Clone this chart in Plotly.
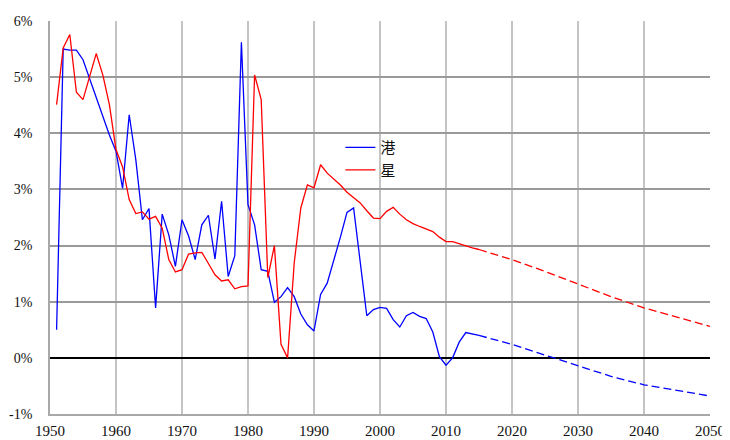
import plotly.graph_objects as go

years_hist = list(range(1951, 2016))
hk_hist = [0.50, 5.50, 5.48, 5.48, 5.31, 4.98, 4.65, 4.32, 3.97, 3.68,
           3.02, 4.33, 3.53, 2.46, 2.66, 0.89, 2.56, 2.19, 1.63, 2.46,
           2.17, 1.75, 2.37, 2.54, 1.76, 2.79, 1.45, 1.82, 5.62, 2.73,
           2.37, 1.57, 1.54, 0.99, 1.09, 1.25, 1.09, 0.78, 0.59, 0.48,
           1.13, 1.33, 1.72, 2.15, 2.59, 2.67, 1.71, 0.75, 0.86, 0.90,
           0.88, 0.68, 0.55, 0.75, 0.81, 0.74, 0.70, 0.46, 0.02, -0.13,
           0.00, 0.28, 0.45, 0.42, 0.40]
sg_hist = [4.51, 5.52, 5.76, 4.73, 4.60, 5.01, 5.42, 5.04, 4.51, 3.71,
           3.40, 2.82, 2.57, 2.60, 2.47, 2.52, 2.31, 1.75, 1.53, 1.57,
           1.85, 1.87, 1.88, 1.68, 1.48, 1.37, 1.39, 1.23, 1.27, 1.28,
           5.04, 4.60, 1.43, 2.00, 0.24, 0.00, 1.69, 2.67, 3.08, 3.03,
           3.44, 3.29, 3.18, 3.08, 2.95, 2.85, 2.76, 2.62, 2.49, 2.48,
           2.61, 2.68, 2.56, 2.46, 2.39, 2.34, 2.30, 2.25, 2.15, 2.07,
           2.07, 2.03, 1.99, 1.96, 1.93]

years_proj = [2015, 2020, 2025, 2030, 2035, 2040, 2045, 2050]
hk_proj = [0.40, 0.24, 0.05, -0.14, -0.33, -0.48, -0.58, -0.68]
sg_proj = [1.93, 1.75, 1.54, 1.31, 1.09, 0.89, 0.73, 0.56]

x_ticks = list(range(1950, 2051, 10))
y_ticks = [-1, 0, 1, 2, 3, 4, 5, 6]
y_labels = ["-1%", "0%", "1%", "2%", "3%", "4%", "5%", "6%"]

BLUE = "#0000ff"
RED = "#ff0000"
SERIF = "'Times New Roman', 'Liberation Serif', serif"

fig = go.Figure()
fig.add_trace(go.Scatter(x=years_hist, y=hk_hist, mode="lines", name="港",
                         line=dict(color=BLUE, width=1.3)))
fig.add_trace(go.Scatter(x=years_hist, y=sg_hist, mode="lines", name="星",
                         line=dict(color=RED, width=1.3)))
fig.add_trace(go.Scatter(x=years_proj, y=hk_proj, mode="lines", showlegend=False,
                         line=dict(color=BLUE, width=1.3, dash="8px,4px")))
fig.add_trace(go.Scatter(x=years_proj, y=sg_proj, mode="lines", showlegend=False,
                         line=dict(color=RED, width=1.3, dash="8px,4px")))

fig.update_layout(
    width=722, height=432,
    margin=dict(l=42, r=20, t=13, b=26, autoexpand=False),
    plot_bgcolor="white", paper_bgcolor="white",
    font=dict(family=SERIF, size=15, color="#111"),
    showlegend=True,
    legend=dict(x=0.44, y=0.72, xanchor="left", yanchor="top",
                bgcolor="rgba(0,0,0,0)",
                font=dict(family="Noto Sans CJK SC", size=15, color="#111"),
                itemwidth=30, tracegroupgap=2),
)
fig.update_xaxes(range=[1950, 2050], tickvals=x_ticks, showgrid=True,
                 gridcolor="#c4c4c4", gridwidth=2, showline=True, linecolor="#a8a8a8",
                 linewidth=1.5, ticks="", zeroline=False, ticklabelstandoff=2,
                 automargin=False, tickfont=dict(family=SERIF, size=15, color="#111"))
fig.update_yaxes(range=[-1, 6], tickvals=y_ticks, ticktext=y_labels, showgrid=True,
                 gridcolor="#9a9a9a", gridwidth=1.5, showline=True, linecolor="#a8a8a8",
                 linewidth=1.5, ticks="", zeroline=True, zerolinecolor="#000000",
                 zerolinewidth=1.5, ticklabelstandoff=13, automargin=False,
                 tickfont=dict(family=SERIF, size=14, color="#111"))

fig.write_html("out.html")
